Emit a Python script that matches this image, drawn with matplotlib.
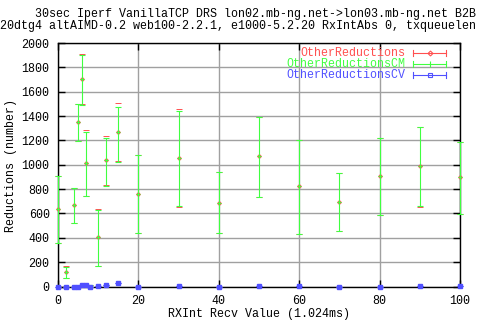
import matplotlib
matplotlib.use('Agg')
import matplotlib.pyplot as plt
import numpy as np

# data
x = [0, 2, 4, 5, 6, 7, 8, 10, 12, 15, 20, 30, 40, 50, 60, 70, 80, 90, 100]
mean = [634, 115, 667, 1350, 1703, 1012, 0, 403, 1037, 1267, 757, 1056, 688, 1070, 823, 691, 905, 987, 897]
red_lo = [354, 66, 524, 1196, 1500, 743, 0, 165, 834, 1034, 439, 656, 436, 732, 428, 453, 584, 656, 592]
red_hi = [908, 170, 806, 1498, 1909, 1286, 10, 639, 1240, 1506, 1078, 1457, 938, 1396, 1207, 930, 1223, 1314, 1190]
cm_lo = [354, 66, 524, 1196, 1492, 743, 0, 165, 828, 1020, 439, 662, 436, 732, 428, 453, 584, 664, 592]
cm_hi = [908, 162, 806, 1498, 1901, 1270, 10, 628, 1221, 1473, 1078, 1443, 938, 1390, 1200, 930, 1216, 1306, 1183]
cv = [0, 0, 0, 0, 10, 10, 0, 8, 16, 25, 0, 8, 0, 8, 8, 0, 0, 8, 8]

names = ['OtherReductions', 'OtherReductionsCM', 'OtherReductionsCV']
colors = ['#ff5050', '#40ff40', '#5050ff']
title1 = '30sec Iperf VanillaTCP DRS lon02.mb-ng.net->lon03.mb-ng.net B2B'
title2 = '20dtg4 altAIMD-0.2 web100-2.2.1, e1000-5.2.20 RxIntAbs 0, txqueuelen'

FONT = 'Liberation Mono'
FS = 8.4
W, H = 480, 320

fig = plt.figure(figsize=(4.8, 3.2), dpi=100)
ax = fig.add_axes([58 / W, 1 - 286.5 / H, 402 / W, 243.5 / H])

mean = np.array(mean)
lw = 0.8
eb = []
# red bar itself is hidden under the green one anyway; only its caps show
eb.append(ax.errorbar(x, mean, yerr=[mean - np.array(red_lo), np.array(red_hi) - mean],
                      fmt='D', ms=2, mfc='none', mec=colors[0], mew=0.7, ecolor=colors[0],
                      elinewidth=0, capsize=2.5, capthick=lw, zorder=3))
eb.append(ax.errorbar(x, mean, yerr=[mean - np.array(cm_lo), np.array(cm_hi) - mean],
                      fmt='+', ms=3.5, mew=lw, color=colors[1], ecolor=colors[1],
                      elinewidth=lw, capsize=2.5, capthick=lw, zorder=4))
eb.append(ax.errorbar(x, cv, yerr=0, fmt='s', ms=3.3, color=colors[2],
                      elinewidth=lw, capsize=2.5, capthick=lw, zorder=5))
for c in eb:
    for art in c.get_children():
        art.set_clip_on(False)

ax.set_xlim(0, 100)
ax.set_ylim(0, 2000)
ax.set_xticks(range(0, 101, 20))
ax.set_yticks(range(0, 2001, 200))
ax.grid(True, color='#a0a0a0', lw=1)
ax.set_axisbelow(True)
ax.tick_params(direction='in', top=True, right=True, length=5, width=1,
               labelsize=FS, pad=6)
for lab in ax.get_xticklabels() + ax.get_yticklabels():
    lab.set_family(FONT)
for s in ax.spines.values():
    s.set_linewidth(1)

# legend, drawn the way gnuplot does it
for i, (n, c) in enumerate(zip(names, colors)):
    yy = 1 - (53.3 + 11 * i - 43) / 243.5
    ax.text((405 - 58) / 402, yy, n, color=c, family=FONT, fontsize=FS,
            ha='right', va='center', transform=ax.transAxes)
    x0, x1 = (413 - 58) / 402, (446 - 58) / 402
    ax.plot([x0, x1], [yy, yy], color=c, lw=lw, transform=ax.transAxes, clip_on=False)
    for xe in (x0, x1):
        ax.plot([xe, xe], [yy - 0.012, yy + 0.012], color=c, lw=lw,
                transform=ax.transAxes, clip_on=False)
    mk = ['D', '|', 's'][i]
    ax.plot([(x0 + x1) / 2], [yy], marker=mk, ms=[2.5, 4, 3][i],
            mfc='none', mec=c, mew=lw, transform=ax.transAxes, clip_on=False)

fig.text(35 / W, 1 - 14.5 / H, title1, family=FONT, fontsize=FS, ha='left', va='center')
fig.text(0, 1 - 26.5 / H, title2, family=FONT, fontsize=FS, ha='left', va='center')
fig.text(259 / W, 1 - 314 / H, 'RXInt Recv Value (1.024ms)', family=FONT, fontsize=FS,
         ha='center', va='center')
fig.text(11 / W, 1 - 166 / H, 'Reductions (number)', family=FONT, fontsize=FS,
         ha='center', va='center', rotation=90)

fig.savefig('out.png', dpi=100)
